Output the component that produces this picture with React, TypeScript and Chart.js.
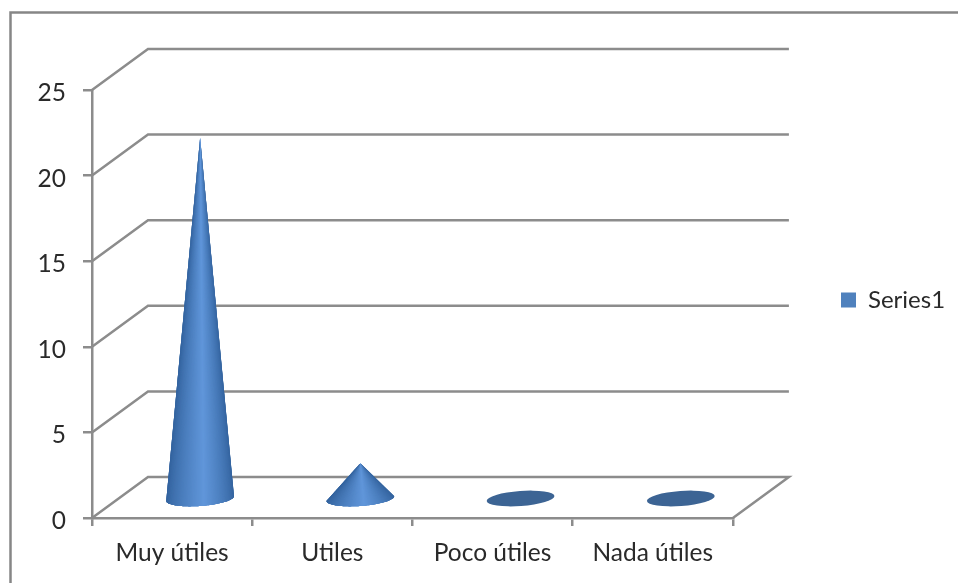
import React, { useEffect, useRef } from "react";
import { Chart, registerables } from "chart.js";

Chart.register(...registerables);

const categories = ["Muy útiles", "Utiles", "Poco útiles", "Nada útiles"];
const seriesName = "Series1";
const seriesValues = [21, 2, 0, 0];
const yTicks = [0, 5, 10, 15, 20, 25];

const FONT = "Lato";
const GRID = "#8c8c8c";
const TEXT = "#2a2a2a";
const DEPTH_X = 56;
const DEPTH_Y = 41;

const mix = (t: number) => {
  const a = [0x33, 0x63, 0x9e];
  const b = [0x60, 0x96, 0xda];
  return `rgb(${a.map((v, i) => Math.round(v + (b[i] - v) * t)).join(",")})`;
};

const cones = {
  id: "cones",
  beforeDatasetsDraw(chart: any) {
    const { ctx, chartArea, scales } = chart;
    const y = scales.y;
    ctx.save();
    // outer frame
    ctx.strokeStyle = "#868686";
    ctx.lineWidth = 2.5;
    ctx.strokeRect(10.5, 12.5, 1200, 1200);
    // 3D walls and floor, from the value scale
    ctx.strokeStyle = GRID;
    ctx.lineWidth = 2.5;
    yTicks.forEach((v) => {
      const py = y.getPixelForValue(v);
      ctx.beginPath();
      ctx.moveTo(chartArea.left, py);
      ctx.lineTo(chartArea.left + DEPTH_X, py - DEPTH_Y);
      ctx.lineTo(chartArea.right + DEPTH_X, py - DEPTH_Y);
      if (v === 0) ctx.lineTo(chartArea.right, py);
      ctx.stroke();
    });
    // cones, from the bar elements
    const meta = chart.getDatasetMeta(0);
    const rot = (-4.2 * Math.PI) / 180;
    meta.data.forEach((bar: any, i: number) => {
      const cx = bar.x + DEPTH_X / 2;
      const cy = y.getPixelForValue(0) - DEPTH_Y / 2 + 1;
      const rx = bar.width / 2;
      const ry = 7.5;
      if (seriesValues[i] === 0) {
        ctx.fillStyle = "#3c6494";
        ctx.beginPath();
        ctx.ellipse(cx, cy, rx, ry, rot, 0, Math.PI * 2);
        ctx.fill();
        return;
      }
      const tipY = bar.y - DEPTH_Y / 2;
      const N = 80;
      const pt = (a: number) => [
        cx + rx * Math.cos(a) * Math.cos(rot) - ry * Math.sin(a) * Math.sin(rot),
        cy + rx * Math.cos(a) * Math.sin(rot) + ry * Math.sin(a) * Math.cos(rot),
      ];
      // Painted from the right side to the left, each wedge overlapping the next.
      for (let k = 0; k < N; k++) {
        const a0 = (Math.PI * k) / N;
        const pos = (Math.cos(a0 + Math.PI / N / 2) + 1) / 2; // 1 at right, 0 at left
        const d = pos < 0.55 ? pos / 0.55 : (1 - pos) / 0.45;
        ctx.fillStyle = mix(Math.pow(d, 0.75));
        ctx.beginPath();
        ctx.moveTo(cx, tipY);
        for (let j = k; j <= Math.min(N, k + 4); j++) {
          const p = pt((Math.PI * j) / N);
          ctx.lineTo(p[0], p[1]);
        }
        ctx.closePath();
        ctx.fill();
      }
    });
    ctx.restore();
    return false;
  },
};

const placeLegend = {
  id: "placeLegend",
  afterLayout(chart: any) {
    const l = chart.legend;
    if (!l) return;
    const w = l.right - l.left;
    const h = l.bottom - l.top;
    l.left = 831;
    l.right = 831 + w;
    l.top = 300 - h / 2;
    l.bottom = 300 + h / 2;
  },
};

const shifted = new WeakSet();
const nudgeYLabels = {
  id: "nudgeYLabels",
  beforeDraw(chart: any) {
    chart.scales.y.getLabelItems().forEach((item: any) => {
      if (shifted.has(item)) return;
      shifted.add(item);
      item.options.translation = [item.options.translation[0], item.options.translation[1] + 3];
    });
  },
};

export default function App() {
  const ref = useRef<HTMLCanvasElement | null>(null);
  useEffect(() => {
    document.body.style.margin = "0";
    const chart = new Chart(ref.current as HTMLCanvasElement, {
      type: "bar",
      data: {
        labels: categories,
        datasets: [
          {
            label: seriesName,
            data: seriesValues,
            backgroundColor: "#4f81bd",
            barPercentage: 0.424,
            categoryPercentage: 1,
          },
        ],
      },
      options: {
        responsive: false,
        animation: false,
        layout: { padding: { top: 90, left: 0, right: 101, bottom: 0 } },
        scales: {
          x: {
            afterFit: (axis: any) => {
              axis.height = 65;
            },
            border: { display: true, color: GRID, width: 2.5 },
            grid: { offset: true, drawOnChartArea: false, color: GRID, lineWidth: 2.5, tickLength: 8 },
            ticks: { color: TEXT, font: { family: FONT, size: 24.5 }, padding: 12, maxRotation: 0 },
          },
          y: {
            min: 0,
            max: 25,
            afterFit: (axis: any) => {
              axis.width = 92;
            },
            border: { display: true, color: GRID, width: 2.5 },
            grid: { drawOnChartArea: false, color: GRID, lineWidth: 2.5, tickLength: 9 },
            ticks: { stepSize: 5, color: TEXT, font: { family: FONT, size: 24.5 }, padding: 17 },
          },
        },
        plugins: {
          title: { display: false },
          tooltip: { enabled: false },
          legend: {
            position: "right",
            fullSize: false,
            labels: {
              color: TEXT,
              boxWidth: 15,
              boxHeight: 15,
              font: { family: FONT, size: 24 },
            },
          },
        },
      } as any,
      plugins: [cones, placeLegend, nudgeYLabels],
    });
    return () => chart.destroy();
  }, []);
  return <canvas ref={ref} width={958} height={583} style={{ display: "block", filter: "blur(0.5px)" }} />;
}
